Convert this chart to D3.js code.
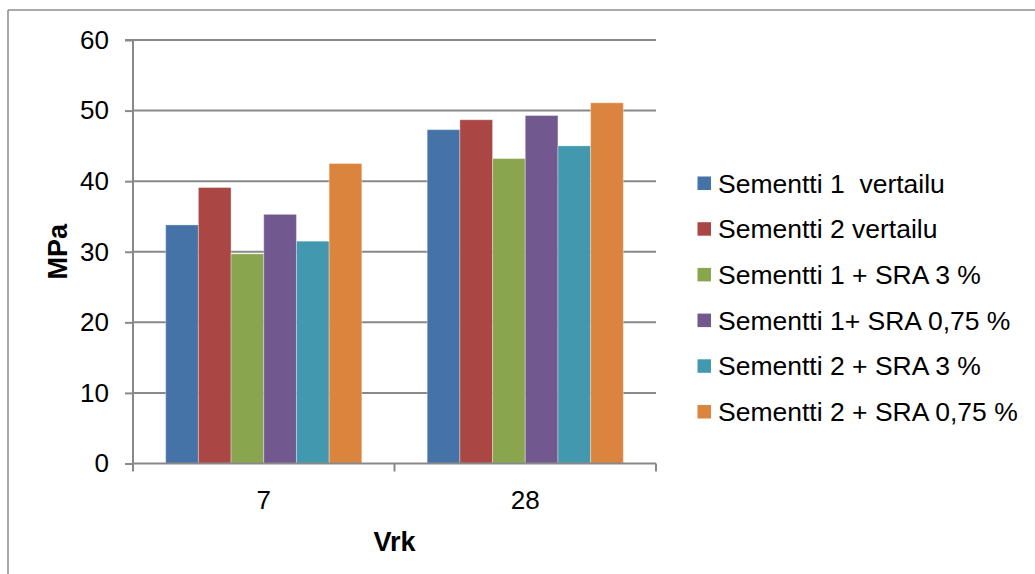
<!DOCTYPE html>
<html><head><meta charset="utf-8">
<script src="https://cdn.jsdelivr.net/npm/d3@7"></script>
<style>body{margin:0;background:#fff}svg{display:block;font-family:"Liberation Sans",Arial,sans-serif}</style>
</head><body><svg id="c" width="1035" height="574"></svg>
<script>
const categories = ["7", "28"];
const seriesNames = ["Sementti 1  vertailu", "Sementti 2 vertailu", "Sementti 1 + SRA 3 %", "Sementti 1+ SRA 0,75 %", "Sementti 2 + SRA 3 %", "Sementti 2 + SRA 0,75 %"];
const colors = ["#4572A7", "#AA4643", "#89A54E", "#71588F", "#4198AF", "#DB843D"];
const s1vertailu = [33.8, 47.3];
const s2vertailu = [39.1, 48.7];
const s1sra3 = [29.7, 43.2];
const s1sra075 = [35.3, 49.3];
const s2sra3 = [31.5, 45.0];
const s2sra075 = [42.5, 51.1];
const seriesValues = [s1vertailu, s2vertailu, s1sra3, s1sra075, s2sra3, s2sra075];
const yTicks = [0, 10, 20, 30, 40, 50, 60];

const svg = d3.select("#c");
const L = 133, R = 656, T = 40, B = 463.5;
const grid = "#898989";

svg.append("line").attr("x1", 8).attr("x2", 8).attr("y1", 10).attr("y2", 574).attr("stroke", "#8c8c8c").attr("stroke-width", 1.5);
svg.append("line").attr("x1", 8).attr("x2", 1035).attr("y1", 10).attr("y2", 10).attr("stroke", "#8c8c8c").attr("stroke-width", 1.5);

const x0 = d3.scaleBand().domain(categories).range([L, R]).padding(0);
const x1 = d3.scaleBand().domain(d3.range(seriesNames.length)).range([x0.bandwidth() / 8, x0.bandwidth() * 7 / 8]).padding(0);
const y = d3.scaleLinear().domain([0, 60]).range([B, T]);

svg.append("g").selectAll("line").data(yTicks.slice(1)).join("line")
  .attr("x1", L).attr("x2", R).attr("y1", d => y(d)).attr("y2", d => y(d))
  .attr("stroke", grid).attr("stroke-width", 2);

const g = svg.append("g");
categories.forEach((c, ci) => {
  seriesValues.forEach((vals, si) => {
    g.append("rect")
      .attr("x", x0(c) + x1(si)).attr("width", x1.bandwidth())
      .attr("y", y(vals[ci])).attr("height", B - y(vals[ci]))
      .attr("fill", colors[si])
      .attr("stroke", "rgba(255,255,255,0.35)").attr("stroke-width", 1);
  });
});

const yAxis = d3.axisLeft(y).tickValues(yTicks).tickSize(8).tickPadding(16).tickFormat(d3.format("d"));
const ya = svg.append("g").attr("transform", `translate(${L},0)`).call(yAxis);
ya.select(".domain").attr("stroke", grid).attr("stroke-width", 2).attr("d", `M-8,${T}H0V${B}`);
ya.selectAll(".tick line").attr("stroke", grid).attr("stroke-width", 2);
ya.selectAll(".tick text").attr("font-size", 26).attr("fill", "#000").attr("font-family", "Liberation Sans, Arial, sans-serif");

const xAxis = d3.axisBottom(x0).tickSize(0).tickPadding(27);
const xa = svg.append("g").attr("transform", `translate(0,${B})`).call(xAxis);
xa.select(".domain").attr("stroke", grid).attr("stroke-width", 2).attr("d", `M${L},0H${R}`);
xa.selectAll(".tick text").attr("font-size", 26).attr("fill", "#000").attr("font-family", "Liberation Sans, Arial, sans-serif");
svg.append("g").selectAll("line").data([L, x0("28"), R]).join("line")
  .attr("x1", d => d).attr("x2", d => d).attr("y1", B).attr("y2", B + 8)
  .attr("stroke", grid).attr("stroke-width", 2);

svg.append("text").attr("x", (L + R) / 2).attr("y", 551).attr("text-anchor", "middle")
  .attr("font-size", 27).attr("font-weight", "bold").text("Vrk");
svg.append("text").attr("transform", `translate(67,${(T + B) / 2}) rotate(-90)`).attr("text-anchor", "middle")
  .attr("font-size", 27).attr("font-weight", "bold").text("MPa");

const lg = svg.append("g");
seriesNames.forEach((n, i) => {
  const cy = 183 + i * 45.7;
  lg.append("rect").attr("x", 697.5).attr("y", cy - 6.5).attr("width", 13.5).attr("height", 13.5).attr("fill", colors[i]);
  lg.append("text").attr("x", 718).attr("y", cy + 9.5).attr("font-size", 26.5).attr("fill", "#000")
    .attr("xml:space", "preserve").style("white-space", "pre").text(n);
});
</script></body></html>
